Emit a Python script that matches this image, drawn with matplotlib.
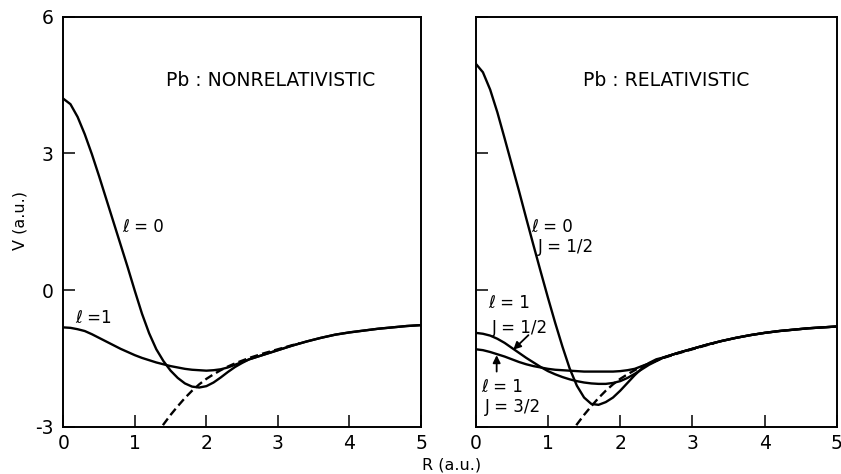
import matplotlib
matplotlib.use("Agg")
import matplotlib.pyplot as plt
import numpy as np

plt.rcParams['font.family'] = ['DejaVu Sans']
plt.rcParams['axes.unicode_minus'] = False

# ---- data (R in a.u., V in a.u.) ----
# common outer part of all curves
tail_r = [2.6, 2.8, 3.0, 3.2, 3.4, 3.6, 3.8, 4.0, 4.2, 4.4, 4.6, 4.8, 5.0]
tail_v_nonrel = [-1.52, -1.42, -1.32, -1.22, -1.13, -1.05, -0.98, -0.93, -0.89, -0.85, -0.82, -0.79, -0.77]
tail_v_rel = [-1.48, -1.38, -1.29, -1.20, -1.12, -1.05, -0.99, -0.94, -0.90, -0.87, -0.84, -0.82, -0.80]

inner_r = [0.0, 0.1, 0.2, 0.3, 0.4, 0.5, 0.6, 0.7, 0.8, 0.9, 1.0, 1.1, 1.2,
           1.3, 1.4, 1.5, 1.6, 1.7, 1.8, 1.9, 2.0, 2.1, 2.2, 2.3, 2.4, 2.5]

# nonrelativistic
v_l0 = [4.20, 4.08, 3.80, 3.42, 2.98, 2.50, 2.00, 1.50, 1.00, 0.50, -0.02, -0.52, -0.95,
        -1.30, -1.56, -1.77, -1.93, -2.05, -2.12, -2.14, -2.11, -2.03, -1.92, -1.80, -1.69, -1.60]
v_l1 = [-0.82, -0.83, -0.86, -0.90, -0.97, -1.05, -1.13, -1.21, -1.29, -1.36, -1.43, -1.49, -1.54,
        -1.59, -1.63, -1.67, -1.70, -1.73, -1.75, -1.76, -1.77, -1.76, -1.74, -1.70, -1.64, -1.58]

# relativistic
v_l0_j12 = [4.97, 4.78, 4.40, 3.90, 3.33, 2.75, 2.17, 1.57, 0.98, 0.40, -0.17, -0.72, -1.24,
            -1.72, -2.10, -2.36, -2.50, -2.52, -2.46, -2.36, -2.21, -2.04, -1.87, -1.72, -1.60, -1.52]
v_l1_j12 = [-0.94, -0.96, -1.00, -1.07, -1.16, -1.27, -1.38, -1.49, -1.59, -1.69, -1.78, -1.85, -1.91,
            -1.96, -2.00, -2.03, -2.05, -2.06, -2.06, -2.04, -2.00, -1.93, -1.84, -1.74, -1.64, -1.56]
v_l1_j32 = [-1.30, -1.32, -1.36, -1.41, -1.46, -1.52, -1.58, -1.63, -1.67, -1.70, -1.73, -1.75, -1.76,
            -1.77, -1.78, -1.79, -1.79, -1.79, -1.79, -1.79, -1.78, -1.76, -1.73, -1.67, -1.61, -1.55]

# dashed curve
dash_r = [1.30, 1.40, 1.50, 1.60, 1.70, 1.80, 1.90, 2.00, 2.10, 2.20, 2.30, 2.40,
          2.50, 2.60, 2.80, 3.00, 3.20, 3.30]
dash_v = [-3.20, -2.95, -2.74, -2.55, -2.37, -2.21, -2.07, -1.95, -1.85, -1.76, -1.68, -1.61,
          -1.55, -1.49, -1.39, -1.30, -1.21, -1.17]

x_ticks = [0, 1, 2, 3, 4, 5]
y_ticks = [-3, 0, 3, 6]

W, H = 841, 474
fig = plt.figure(figsize=(W / 100, H / 100), dpi=100)
ax1 = fig.add_axes([63.3 / W, 1 - 426.7 / H, (421 - 63.3) / W, 410 / H])
ax2 = fig.add_axes([475.7 / W, 1 - 426.7 / H, (837 - 475.7) / W, 410 / H])

LW = 1.7
full_r = inner_r + tail_r
for ax in (ax1, ax2):
    ax.set_xlim(0, 5)
    ax.set_ylim(-3, 6)
    ax.set_xticks(x_ticks)
    ax.set_yticks(y_ticks)
    ax.tick_params(direction='in', length=8.5, width=1.1, labelsize=13.5,
                   top=False, right=False)
    ax.tick_params(axis='y', pad=7)
    ax.tick_params(axis='x', pad=5)
    for s in ax.spines.values():
        s.set_linewidth(1.4)
    ax.plot(dash_r, dash_v, color='k', lw=LW, ls=(0, (3.5, 1.8)))

ax1.plot(full_r, v_l0 + tail_v_nonrel, color='k', lw=LW)
ax1.plot(full_r, v_l1 + tail_v_nonrel, color='k', lw=LW)
ax2.plot(full_r, v_l0_j12 + tail_v_rel, color='k', lw=LW)
ax2.plot(full_r, v_l1_j12 + tail_v_rel, color='k', lw=LW)
ax2.plot(full_r, v_l1_j32 + tail_v_rel, color='k', lw=LW)

ax2.set_yticklabels([])

# panel titles and curve labels
fs = 12
ax1.text(1.44, 4.59, 'Pb : NONRELATIVISTIC', fontsize=13.5, va='center')
ax2.text(1.48, 4.61, 'Pb : RELATIVISTIC', fontsize=13.5, va='center')

ax1.text(0.82, 1.38, 'ℓ = 0', fontsize=fs, va='center')
ax1.text(0.16, -0.61, 'ℓ =1', fontsize=fs, va='center')

ax2.text(0.77, 1.38, 'ℓ = 0', fontsize=fs, va='center')
ax2.text(0.86, 0.94, 'J = 1/2', fontsize=fs, va='center')
ax2.text(0.17, -0.29, 'ℓ = 1', fontsize=fs, va='center')
ax2.text(0.22, -0.84, 'J = 1/2', fontsize=fs, va='center')
ax2.text(0.08, -2.12, 'ℓ = 1', fontsize=fs, va='center')
ax2.text(0.13, -2.56, 'J = 3/2', fontsize=fs, va='center')

arrow = dict(arrowstyle='-|>', color='k', lw=1.3, mutation_scale=11,
             shrinkA=0, shrinkB=0)
ax2.annotate('', xy=(0.52, -1.31), xytext=(0.73, -0.99), arrowprops=arrow)
ax2.annotate('', xy=(0.29, -1.43), xytext=(0.29, -1.79), arrowprops=arrow)

fig.text(20 / W, 1 - 221 / H, 'V (a.u.)', rotation=90, fontsize=11.5,
         ha='center', va='center')
fig.text(452 / W, 1 - 465 / H, 'R (a.u.)', fontsize=11.5,
         ha='center', va='center')

fig.savefig('out.png', dpi=100)
